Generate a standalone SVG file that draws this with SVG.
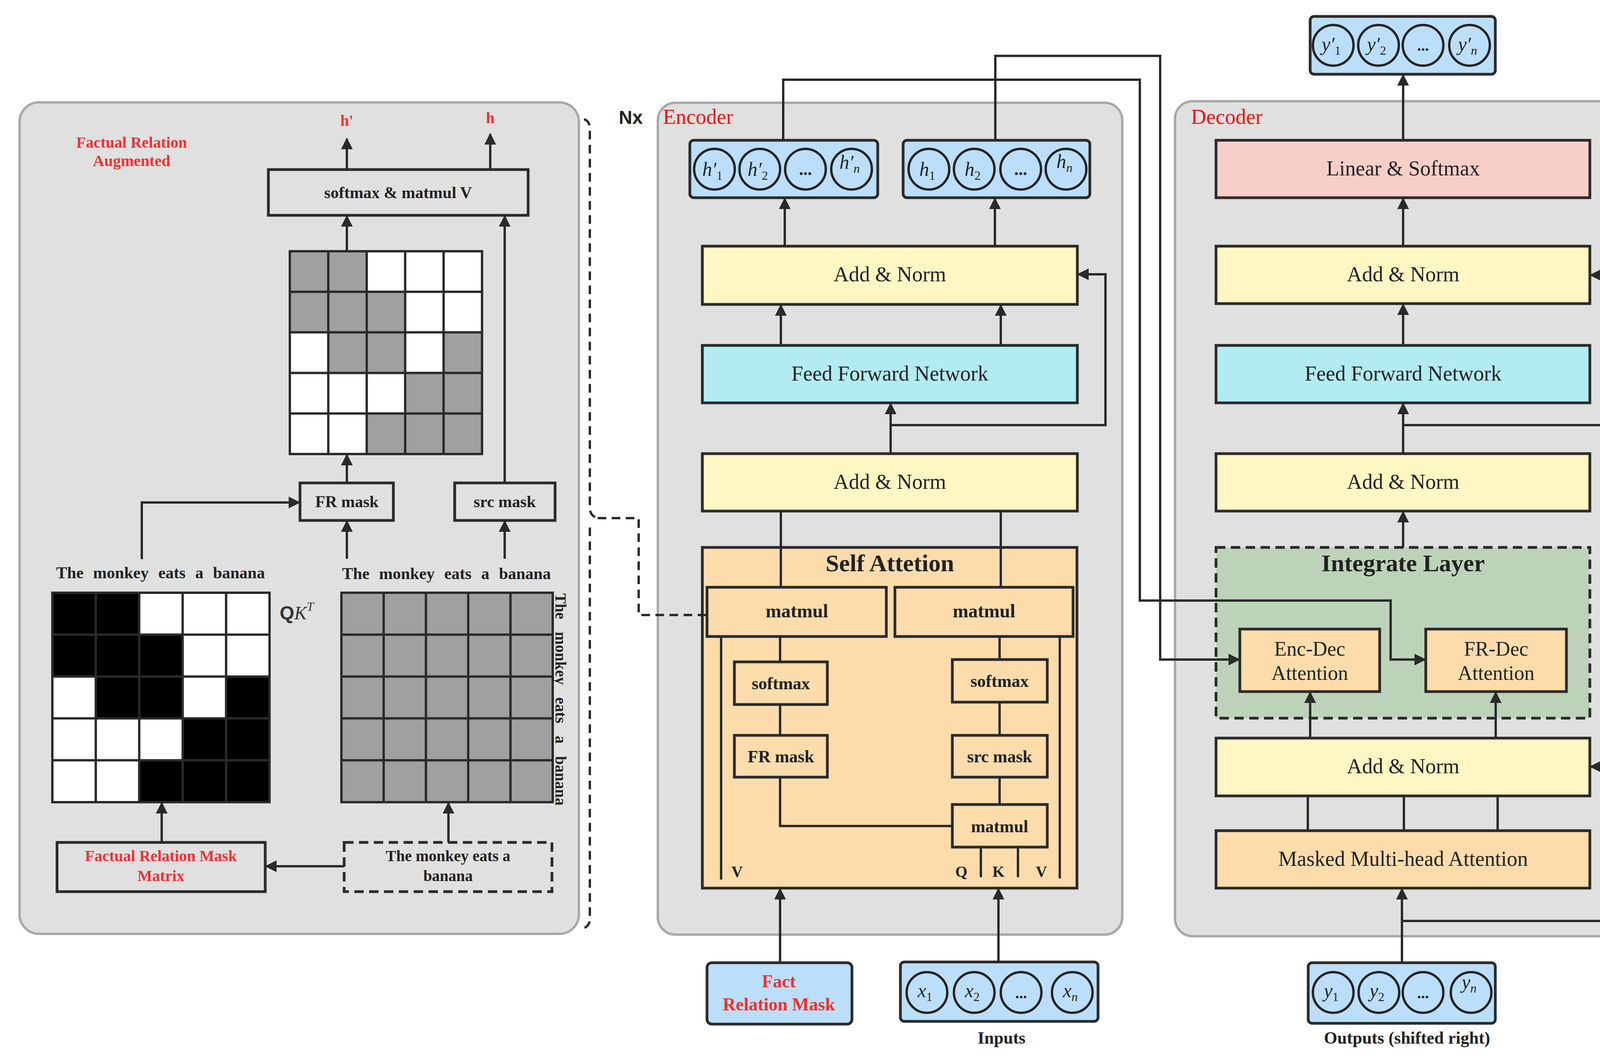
<svg xmlns="http://www.w3.org/2000/svg" width="4318" height="2718" viewBox="0 0 4318 2718">
<style>
.pan{fill:#e0e0e0;stroke:#a8a8a8;stroke-width:6}
.bx{stroke:#2a2a2a;stroke-width:7}
.ln{fill:none;stroke:#2a2a2a;stroke-width:6}
.t{font-family:"Liberation Serif",serif;fill:#222;text-anchor:middle}
.b{font-weight:bold}
.red{fill:#f03030}
.m{font-family:"Liberation Serif",serif;font-style:italic;fill:#222;text-anchor:middle;font-size:50px}
.ci{fill:none;stroke:#222;stroke-width:6}
</style>
<defs>
<marker id="ar" viewBox="0 0 10 10" refX="9" refY="5" markerWidth="5" markerHeight="5" orient="auto-start-reverse" markerUnits="strokeWidth"><path d="M0,0 L10,5 L0,10 z" fill="#2a2a2a"/></marker>
</defs>
<rect width="4318" height="2718" fill="#fff"/>
<g id="left-panel">
<rect class="pan" x="50" y="262" width="1432" height="2128" rx="50"/>
<text class="t b red" x="337" y="378" font-size="40">Factual Relation</text>
<text class="t b red" x="337" y="425" font-size="40">Augmented</text>
<text class="t b red" x="888" y="322" font-size="40">h'</text>
<text class="t b red" x="1255" y="315" font-size="40">h</text>
</g>
<g id="enc-panel">
<rect class="pan" x="1684" y="263" width="1189" height="2129" rx="45"/>
<text x="1584" y="317" font-family="Liberation Sans,sans-serif" font-weight="bold" font-size="48" fill="#222">Nx</text>
<text x="1697" y="317" font-family="Liberation Serif,serif" font-size="54" fill="#f01010">Encoder</text>
</g>
<g id="dec-panel">
<rect class="pan" x="3008" y="259" width="1169" height="2137" rx="45"/>
<text x="3049" y="317" font-family="Liberation Serif,serif" font-size="54" fill="#f01010">Decoder</text>
<text x="4200" y="326" font-family="Liberation Sans,sans-serif" font-weight="bold" font-size="46" fill="#222">Nx</text>
</g>
<g id="softmax-matmul"><rect class="bx" x="687" y="434" width="665" height="117" fill="none"/><text class="t b" x="1019" y="507" font-size="42">softmax &amp; matmul V</text></g>
<g id="grid-top">
<rect x="742" y="643" width="492" height="519" fill="#fff"/>
<g fill="#a0a0a0">
<rect x="742" y="643" width="98.4" height="103.8"/><rect x="840.4" y="643" width="98.4" height="103.8"/>
<rect x="742" y="746.8" width="98.4" height="103.8"/><rect x="840.4" y="746.8" width="98.4" height="103.8"/><rect x="938.8" y="746.8" width="98.4" height="103.8"/>
<rect x="840.4" y="850.6" width="98.4" height="103.8"/><rect x="938.8" y="850.6" width="98.4" height="103.8"/><rect x="1135.6" y="850.6" width="98.4" height="103.8"/>
<rect x="1037.2" y="954.4" width="98.4" height="103.8"/><rect x="1135.6" y="954.4" width="98.4" height="103.8"/>
<rect x="938.8" y="1058.2" width="98.4" height="103.8"/><rect x="1037.2" y="1058.2" width="98.4" height="103.8"/><rect x="1135.6" y="1058.2" width="98.4" height="103.8"/>
</g>
<path class="ln" stroke-width="8" d="M742,643H1234V1162H742Z M840.4,643V1162 M938.8,643V1162 M1037.2,643V1162 M1135.6,643V1162 M742,746.8H1234 M742,850.6H1234 M742,954.4H1234 M742,1058.2H1234"/>
</g>
<g id="fr-mask-l"><rect class="bx" x="768" y="1236" width="239" height="96" fill="none"/><text class="t b" x="888" y="1298" font-size="42">FR mask</text></g>
<g id="src-mask-l"><rect class="bx" x="1164" y="1236" width="257" height="96" fill="none"/><text class="t b" x="1292" y="1298" font-size="42">src mask</text></g>
<text class="t b" x="411" y="1480" font-size="42" word-spacing="14">The monkey eats a  banana</text>
<text class="t b" x="1143" y="1482" font-size="42" word-spacing="14">The monkey eats a banana</text>
<g id="grid-qk">
<rect x="134" y="1517" width="556" height="536" fill="#fff"/>
<g fill="#000">
<rect x="134" y="1517" width="111.2" height="107.2"/><rect x="245.2" y="1517" width="111.2" height="107.2"/>
<rect x="134" y="1624.2" width="111.2" height="107.2"/><rect x="245.2" y="1624.2" width="111.2" height="107.2"/><rect x="356.4" y="1624.2" width="111.2" height="107.2"/>
<rect x="245.2" y="1731.4" width="111.2" height="107.2"/><rect x="356.4" y="1731.4" width="111.2" height="107.2"/><rect x="578.8" y="1731.4" width="111.2" height="107.2"/>
<rect x="467.6" y="1838.6" width="111.2" height="107.2"/><rect x="578.8" y="1838.6" width="111.2" height="107.2"/>
<rect x="356.4" y="1945.8" width="111.2" height="107.2"/><rect x="467.6" y="1945.8" width="111.2" height="107.2"/><rect x="578.8" y="1945.8" width="111.2" height="107.2"/>
</g>
<path class="ln" stroke-width="8" d="M134,1517H690V2053H134Z M245.2,1517V2053 M356.4,1517V2053 M467.6,1517V2053 M578.8,1517V2053 M134,1624.2H690 M134,1731.4H690 M134,1838.6H690 M134,1945.8H690"/>
<text x="716" y="1585" font-family="Liberation Sans,sans-serif" font-weight="bold" font-size="48" fill="#333">Q<tspan font-family="Liberation Serif,serif" font-style="italic" font-weight="normal">K</tspan><tspan font-family="Liberation Serif,serif" font-style="italic" font-weight="normal" font-size="32" dy="-22">T</tspan></text>
</g>
<g id="grid-src">
<rect x="874" y="1517" width="541" height="536" fill="#a0a0a0"/>
<path class="ln" stroke-width="8" d="M874,1517H1415V2053H874Z M982.2,1517V2053 M1090.4,1517V2053 M1198.6,1517V2053 M1306.8,1517V2053 M874,1624.2H1415 M874,1731.4H1415 M874,1838.6H1415 M874,1945.8H1415"/>
<text class="t b" font-size="40" word-spacing="22" transform="translate(1422,1790) rotate(90)">The monkey eats a banana</text>
</g>
<g id="fr-matrix"><rect class="bx" x="146" y="2156" width="533" height="126" fill="none"/><text class="t b red" x="412" y="2204" font-size="40">Factual Relation Mask</text><text class="t b red" x="412" y="2255" font-size="40">Matrix</text></g>
<g id="sentence"><rect class="bx" x="881" y="2156" width="532" height="126" fill="none" stroke-dasharray="24,14"/><text class="t b" x="1147" y="2204" font-size="40">The monkey eats a</text><text class="t b" x="1147" y="2255" font-size="40">banana</text></g>
<g id="enc-out-hp">
<rect class="bx" x="1766" y="359" width="481" height="147" rx="10" fill="#bbdefb"/>
<circle class="ci" cx="1829" cy="433" r="52"/><circle class="ci" cx="1945" cy="433" r="52"/><circle class="ci" cx="2062" cy="433" r="52"/><circle class="ci" cx="2180" cy="433" r="52"/>
<text class="m" x="1824" y="450">h′<tspan font-size="32" font-style="normal" dy="10">1</tspan></text>
<text class="m" x="1940" y="450">h′<tspan font-size="32" font-style="normal" dy="10">2</tspan></text>
<text class="t b" x="2062" y="448" font-size="44">...</text>
<text class="m" x="2175" y="432">h′<tspan font-size="32" dy="10">n</tspan></text>
</g>
<g id="enc-out-h">
<rect class="bx" x="2312" y="359" width="478" height="147" rx="10" fill="#bbdefb"/>
<circle class="ci" cx="2378" cy="433" r="52"/><circle class="ci" cx="2494" cy="433" r="52"/><circle class="ci" cx="2613" cy="433" r="52"/><circle class="ci" cx="2729" cy="433" r="52"/>
<text class="m" x="2374" y="450">h<tspan font-size="32" font-style="normal" dy="10">1</tspan></text>
<text class="m" x="2490" y="450">h<tspan font-size="32" font-style="normal" dy="10">2</tspan></text>
<text class="t b" x="2613" y="448" font-size="44">...</text>
<text class="m" x="2725" y="430">h<tspan font-size="32" dy="10">n</tspan></text>
</g>
<g id="enc-addnorm2"><rect class="bx" x="1798" y="630" width="960" height="149" fill="#fef6c3"/><text class="t" x="2278" y="720" font-size="54">Add &amp; Norm</text></g>
<g id="enc-ffn"><rect class="bx" x="1798" y="884" width="960" height="147" fill="#b2ebf2"/><text class="t" x="2278" y="974" font-size="54">Feed Forward Network</text></g>
<g id="enc-addnorm1"><rect class="bx" x="1798" y="1161" width="960" height="147" fill="#fef6c3"/><text class="t" x="2278" y="1251" font-size="54">Add &amp; Norm</text></g>
<g id="self-attention">
<rect class="bx" x="1798" y="1401" width="959" height="872" fill="#fddcac"/>
<text class="t b" x="2278" y="1462" font-size="62">Self Attetion</text>
</g>
<g id="sa-matmul1"><rect class="bx" x="1810" y="1503" width="459" height="126" fill="#fddcac"/><text class="t b" x="2040" y="1580" font-size="48">matmul</text></g>
<g id="sa-matmul2"><rect class="bx" x="2291" y="1503" width="456" height="126" fill="#fddcac"/><text class="t b" x="2519" y="1580" font-size="48">matmul</text></g>
<g id="sa-softmax1"><rect class="bx" x="1880" y="1694" width="238" height="109" fill="#fddcac"/><text class="t b" x="1999" y="1764" font-size="44">softmax</text></g>
<g id="sa-softmax2"><rect class="bx" x="2438" y="1688" width="243" height="109" fill="#fddcac"/><text class="t b" x="2559" y="1758" font-size="44">softmax</text></g>
<g id="sa-frmask"><rect class="bx" x="1880" y="1882" width="238" height="107" fill="#fddcac"/><text class="t b" x="1999" y="1951" font-size="44">FR mask</text></g>
<g id="sa-srcmask"><rect class="bx" x="2438" y="1882" width="243" height="107" fill="#fddcac"/><text class="t b" x="2559" y="1951" font-size="44">src mask</text></g>
<g id="sa-matmul3"><rect class="bx" x="2438" y="2059" width="243" height="109" fill="#fddcac"/><text class="t b" x="2559" y="2130" font-size="44">matmul</text></g>
<g id="sa-labels">
<text class="t b" x="1887" y="2244" font-size="40">V</text>
<text class="t b" x="2461" y="2244" font-size="40">Q</text>
<text class="t b" x="2556" y="2244" font-size="40">K</text>
<text class="t b" x="2666" y="2244" font-size="40">V</text>
</g>
<g id="fact-mask-in"><rect class="bx" x="1810" y="2464" width="371" height="157" rx="12" fill="#bbdefb"/><text class="t b red" x="1994" y="2527" font-size="46">Fact</text><text class="t b red" x="1994" y="2586" font-size="46">Relation Mask</text></g>
<g id="inputs">
<rect class="bx" x="2305" y="2462" width="506" height="152" rx="10" fill="#bbdefb"/>
<circle class="ci" cx="2373" cy="2540" r="52"/><circle class="ci" cx="2494" cy="2540" r="52"/><circle class="ci" cx="2614" cy="2540" r="52"/><circle class="ci" cx="2745" cy="2540" r="52"/>
<text class="m" x="2368" y="2552">x<tspan font-size="32" font-style="normal" dy="10">1</tspan></text>
<text class="m" x="2489" y="2552">x<tspan font-size="32" font-style="normal" dy="10">2</tspan></text>
<text class="t b" x="2614" y="2555" font-size="40">...</text>
<text class="m" x="2740" y="2552">x<tspan font-size="32" dy="10">n</tspan></text>
<text class="t b" x="2564" y="2671" font-size="44">Inputs</text>
</g>
<g id="dec-out">
<rect class="bx" x="3354" y="42" width="474" height="148" rx="10" fill="#bbdefb"/>
<circle class="ci" cx="3413" cy="116" r="52"/><circle class="ci" cx="3529" cy="116" r="52"/><circle class="ci" cx="3643" cy="116" r="52"/><circle class="ci" cx="3762" cy="116" r="52"/>
<text class="m" x="3408" y="130">y′<tspan font-size="32" font-style="normal" dy="10">1</tspan></text>
<text class="m" x="3524" y="130">y′<tspan font-size="32" font-style="normal" dy="10">2</tspan></text>
<text class="t b" x="3643" y="130" font-size="40">...</text>
<text class="m" x="3757" y="130">y′<tspan font-size="32" dy="10">n</tspan></text>
</g>
<g id="dec-linear"><rect class="bx" x="3113" y="359" width="957" height="147" fill="#f8cfc8"/><text class="t" x="3592" y="449" font-size="54">Linear &amp; Softmax</text></g>
<g id="dec-addnorm3"><rect class="bx" x="3113" y="630" width="957" height="147" fill="#fef6c3"/><text class="t" x="3592" y="720" font-size="54">Add &amp; Norm</text></g>
<g id="dec-ffn"><rect class="bx" x="3113" y="884" width="957" height="147" fill="#b2ebf2"/><text class="t" x="3592" y="974" font-size="54">Feed Forward Network</text></g>
<g id="dec-addnorm2"><rect class="bx" x="3113" y="1161" width="957" height="147" fill="#fef6c3"/><text class="t" x="3592" y="1251" font-size="54">Add &amp; Norm</text></g>
<g id="integrate"><rect class="bx" x="3113" y="1401" width="957" height="437" fill="#bdd3b9" stroke-dasharray="24,14"/><text class="t b" x="3592" y="1462" font-size="62">Integrate Layer</text></g>
<g id="enc-dec"><rect class="bx" x="3174" y="1610" width="358" height="160" fill="#fddcac"/><text class="t" x="3353" y="1678" font-size="52">Enc-Dec</text><text class="t" x="3353" y="1740" font-size="52">Attention</text></g>
<g id="fr-dec"><rect class="bx" x="3650" y="1610" width="360" height="160" fill="#fddcac"/><text class="t" x="3830" y="1678" font-size="52">FR-Dec</text><text class="t" x="3830" y="1740" font-size="52">Attention</text></g>
<g id="dec-addnorm1"><rect class="bx" x="3113" y="1889" width="957" height="148" fill="#fef6c3"/><text class="t" x="3592" y="1979" font-size="54">Add &amp; Norm</text></g>
<g id="dec-mmha"><rect class="bx" x="3113" y="2126" width="957" height="147" fill="#fddcac"/><text class="t" x="3592" y="2216" font-size="54">Masked Multi-head Attention</text></g>
<g id="dec-in">
<rect class="bx" x="3349" y="2464" width="479" height="155" rx="10" fill="#bbdefb"/>
<circle class="ci" cx="3413" cy="2540" r="52"/><circle class="ci" cx="3530" cy="2540" r="52"/><circle class="ci" cx="3643" cy="2540" r="52"/><circle class="ci" cx="3766" cy="2540" r="52"/>
<text class="m" x="3408" y="2552">y<tspan font-size="32" font-style="normal" dy="10">1</tspan></text>
<text class="m" x="3525" y="2552">y<tspan font-size="32" font-style="normal" dy="10">2</tspan></text>
<text class="t b" x="3643" y="2555" font-size="40">...</text>
<text class="m" x="3761" y="2530">y<tspan font-size="32" dy="10">n</tspan></text>
<text class="t b" x="3602" y="2671" font-size="44">Outputs (shifted right)</text>
</g>
<g id="connectors">
<g class="ln" marker-end="url(#ar)">
<path d="M888,434V355"/><path d="M1255,434V343"/>
<path d="M888,643V553"/><path d="M1292,1236V553"/>
<path d="M888,1236V1164"/>
<path d="M363,1431V1286H766"/>
<path d="M888,1430V1334"/><path d="M1292,1430V1334"/>
<path d="M414,2156V2055"/><path d="M1148,2156V2055"/>
<path d="M881,2217H681"/>
<path d="M2009,630V508"/><path d="M2547,630V508"/>
<path d="M1999,884V781"/><path d="M2562,884V781"/>
<path d="M2280,1161V1033"/>
<path d="M2280,1088H2830V702H2760"/>
<path d="M1997,2464V2275"/><path d="M2556,2462V2275"/>
<path d="M3592,359V192"/><path d="M3592,630V508"/><path d="M3592,884V779"/><path d="M3592,1161V1033"/>
<path d="M3592,1088H4141V704H4072"/>
<path d="M3592,1401V1310"/>
<path d="M3354,1889V1772"/><path d="M3829,1889V1772"/>
<path d="M3589,2464V2275"/>
<path d="M3589,2357H4141V1962H4072"/>
<path d="M2005,359V204H2918V1537H3560V1688H3648"/>
<path d="M2548,359V143H2970V1688H3172"/>
</g>
<g class="ln">
<path d="M1999,1308V1503"/><path d="M2562,1308V1503"/>
<path d="M1997,1629V1694 M1997,1803V1882 M1997,1989V2114H2438"/>
<path d="M2559,1629V1688 M2559,1797V1882 M2559,1989V2059"/>
<path d="M1846,1629V2251 M2713,1629V2248 M2511,2168V2245 M2606,2168V2245"/>
<path d="M3348,2037V2126 M3594,2037V2126 M3834,2037V2126"/>
<path d="M1495,305q15,5 15,25V1300q0,20 20,26 M1510,1350V2350q0,20 -15,25" stroke-dasharray="22,14"/>
<path d="M1530,1326H1635V1574H1808" stroke-dasharray="22,14"/>
</g>
</g>
</svg>
